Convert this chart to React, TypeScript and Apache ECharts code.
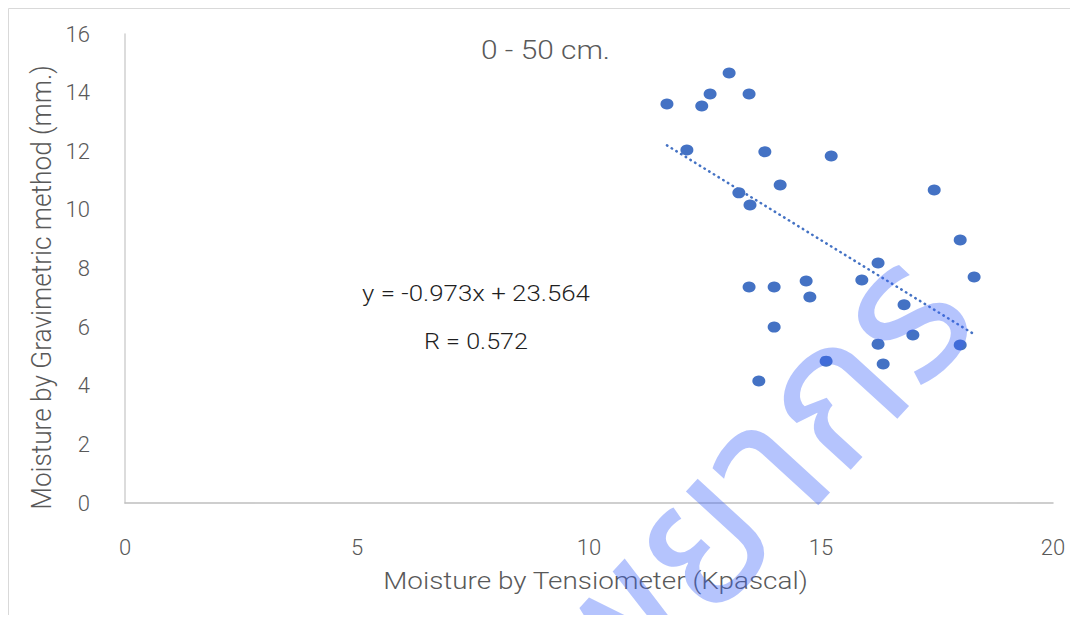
import { useEffect, useRef } from "react";
import * as echarts from "echarts";

// Moisture by Tensiometer (Kpascal)
const tensiometer = [
  11.68, 12.43, 12.61, 13.02, 13.45, 12.11, 13.79, 15.22, 14.12, 13.23,
  13.47, 17.44, 18.0, 16.23, 15.88, 14.68, 18.3, 13.45, 13.99, 14.76,
  16.79, 13.99, 16.98, 16.23, 18.0, 15.11, 16.34, 13.66,
];
// Moisture by Gravimetric method (mm.)
const gravimetric = [
  13.61, 13.54, 13.95, 14.67, 13.95, 12.04, 11.98, 11.84, 10.85, 10.58,
  10.17, 10.68, 8.97, 8.19, 7.61, 7.57, 7.71, 7.37, 7.37, 7.03,
  6.76, 6.0, 5.73, 5.42, 5.39, 4.84, 4.74, 4.16,
];
const xAxisRange = [0, 20];
const xTickStep = 5;
const yAxisRange = [0, 16];
const yTickStep = 2;
const trendSlope = -0.973;
const trendIntercept = 23.564;
const chartTitle = "0 - 50 cm.";
const equationText = "y = -0.973x + 23.564";
const rText = "R = 0.572";
const xTitle = "Moisture by Tensiometer (Kpascal)";
const yTitle = "Moisture by Gravimetric method (mm.)";
const watermark = "ศูนย์วิทยทรัพยากร";

const FONT = 'Roboto, "Noto Sans", sans-serif';
const STRETCH = 1.19;

function measure(text: string, font: string): number {
  const ctx = document.createElement("canvas").getContext("2d");
  if (!ctx) return 1;
  ctx.font = font;
  return ctx.measureText(text).width || 1;
}

function fitted(text: string, font: string, target: number) {
  return target / measure(text, font);
}

export default function App() {
  const ref = useRef<HTMLDivElement>(null);
  useEffect(() => {
    if (!ref.current) return;
    const chart = echarts.init(ref.current, undefined, { renderer: "svg" });
    const pts = tensiometer.map((x, i) => [x, gravimetric[i]]);
    const xmin = Math.min(...tensiometer);
    const xmax = Math.max(...tensiometer);
    const trend = [
      [xmin, trendSlope * xmin + trendIntercept],
      [xmax, trendSlope * xmax + trendIntercept],
    ];
    const titleFont = `300 25px ${FONT}`;
    const xTitleFont = `300 24px ${FONT}`;
    const yTitleFont = `300 23.5px ${FONT}`;
    const eqFont = `300 22.5px ${FONT}`;
    chart.setOption({
      animation: false,
      backgroundColor: "#ffffff",
      grid: { left: 117, right: 17, top: 26, bottom: 112, containLabel: false },
      xAxis: {
        type: "value",
        min: xAxisRange[0],
        max: xAxisRange[1],
        interval: xTickStep,
        axisLine: { show: true, lineStyle: { color: "#bfbfbf", width: 1.5 } },
        axisTick: { show: false },
        splitLine: { show: false },
        axisLabel: { color: "#595959", fontSize: 22, fontWeight: 300, fontFamily: FONT, margin: 33 },
      },
      yAxis: {
        type: "value",
        min: yAxisRange[0],
        max: yAxisRange[1],
        interval: yTickStep,
        axisLine: { show: true, lineStyle: { color: "#d0d0d0", width: 1.5 } },
        axisTick: { show: false },
        splitLine: { show: false },
        axisLabel: { color: "#595959", fontSize: 22, fontWeight: 300, fontFamily: FONT, margin: 35 },
      },
      series: [
        {
          type: "scatter",
          data: pts,
          symbol: "circle",
          symbolSize: [13, 11],
          itemStyle: { color: "#4472C4", opacity: 1 },
          z: 3,
        },
        {
          type: "line",
          data: trend,
          symbol: "none",
          lineStyle: { color: "#4472C4", width: 2.5, type: [0.5, 5], cap: "round", opacity: 1 },
          z: 2,
        },
      ],
      graphic: [
        {
          type: "rect",
          shape: { x: 0.5, y: 0.5, width: 1200, height: 800 },
          style: { fill: "none", stroke: "#d9d9d9", lineWidth: 1 },
          silent: true,
        },
        {
          type: "text",
          x: 537.5,
          y: 42,
          scaleX: fitted(chartTitle, titleFont, 129),
          style: { text: chartTitle, font: titleFont, fill: "#595959", textAlign: "center", textVerticalAlign: "middle" },
        },
        {
          type: "text",
          x: 587.5,
          y: 573,
          scaleX: fitted(xTitle, xTitleFont, 425),
          style: { text: xTitle, font: xTitleFont, fill: "#595959", textAlign: "center", textVerticalAlign: "middle" },
        },
        {
          type: "text",
          x: 34,
          y: 279.5,
          rotation: Math.PI / 2,
          scaleX: fitted(yTitle, yTitleFont, 445),
          scaleY: STRETCH,
          style: { text: yTitle, font: yTitleFont, fill: "#595959", textAlign: "center", textVerticalAlign: "middle" },
        },
        {
          type: "text",
          x: 468,
          y: 286,
          scaleX: fitted(equationText, eqFont, 228),
          style: { text: equationText, font: eqFont, fill: "#1f1f1f", textAlign: "center", textVerticalAlign: "middle" },
        },
        {
          type: "text",
          x: 468,
          y: 333,
          scaleX: fitted(rText, eqFont, 104),
          style: { text: rText, font: eqFont, fill: "#1f1f1f", textAlign: "center", textVerticalAlign: "middle" },
        },
        {
          type: "text",
          x: 932,
          y: 276,
          rotation: 0.83,
          z: 100,
          silent: true,
          style: {
            text: watermark,
            font: `195px "Noto Sans Thai", sans-serif`,
            fill: "rgba(60,100,250,0.38)",
            textAlign: "right",
            textVerticalAlign: "middle",
          },
        },
      ],
    });
    return () => chart.dispose();
  }, []);
  return <div ref={ref} style={{ width: 1062, height: 607 }} />;
}
